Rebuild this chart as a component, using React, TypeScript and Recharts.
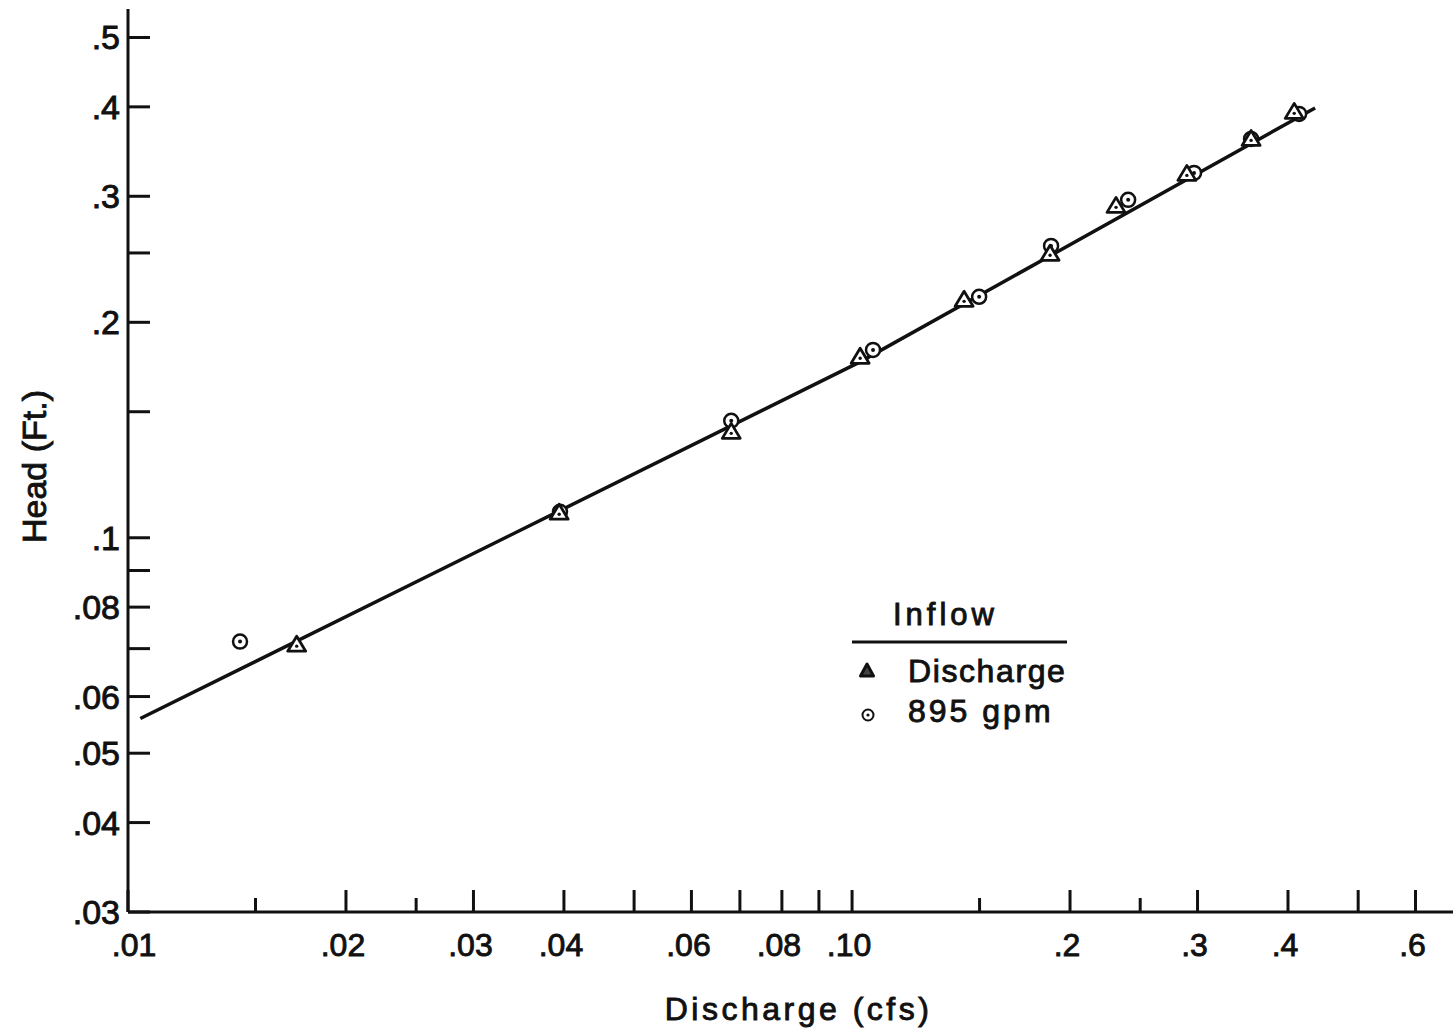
import { ScatterChart, Scatter, XAxis, YAxis, Label, Legend } from "recharts";

// Head vs discharge, log-log
const DISCHARGE_Q = [0.0171, 0.0394, 0.0681, 0.1026, 0.1428, 0.1877, 0.2315, 0.29, 0.3557, 0.408];
const DISCHARGE_H = [0.0709, 0.1084, 0.1406, 0.179, 0.215, 0.2493, 0.2909, 0.3224, 0.3608, 0.3936];

const GPM_Q = [0.01428, 0.0395, 0.0681, 0.1069, 0.1498, 0.1883, 0.2406, 0.2967, 0.3557, 0.4144];
const GPM_H = [0.0716, 0.1087, 0.1457, 0.183, 0.2171, 0.2557, 0.2966, 0.3234, 0.3608, 0.391];

// fitted curve (slight bend near 0.10 cfs)
const FIT_Q = [0.0104, 0.1026, 0.436];
const FIT_H = [0.0559, 0.1761, 0.3986];

const X_TICKS = [0.01, 0.015, 0.02, 0.025, 0.03, 0.04, 0.05, 0.06, 0.07, 0.08, 0.09, 0.1, 0.15, 0.2, 0.25, 0.3, 0.4, 0.5, 0.6];
const X_TICK_LABELS = [".01", "", ".02", "", ".03", ".04", "", ".06", "", ".08", "", ".10", "", ".2", "", ".3", ".4", "", ".6"];
const X_SHORT_TICKS = [0.015, 0.025, 0.15, 0.25];

const Y_TICKS = [0.03, 0.04, 0.05, 0.06, 0.07, 0.08, 0.09, 0.1, 0.15, 0.2, 0.25, 0.3, 0.4, 0.5];
const Y_TICK_LABELS = [".03", ".04", ".05", ".06", "", ".08", "", ".1", "", ".2", "", ".3", ".4", ".5"];

const FONT = '"Liberation Sans", Arial, sans-serif';
const INK = "#111";
const TEXT_STROKE = 0.9;

const toPoints = (q: number[], h: number[]) => q.map((v, i) => ({ q: v, h: h[i] }));

function XTick(props: any) {
  const { x, y, payload } = props;
  const i = X_TICKS.indexOf(payload.value);
  const len = X_SHORT_TICKS.includes(payload.value) ? 14 : 22;
  // first label sits a bit right of the axis corner in the original
  const shift = i === 0 ? 6 : -3;
  return (
    <g>
      <line x1={x} x2={x} y1={y} y2={y - len} stroke={INK} strokeWidth={3} />
      {X_TICK_LABELS[i] && (
        <text x={x + shift} y={y + 44} textAnchor="middle" fontFamily={FONT} fontSize={32} fill={INK} stroke={INK} strokeWidth={TEXT_STROKE}>
          {X_TICK_LABELS[i]}
        </text>
      )}
    </g>
  );
}

function YTick(props: any) {
  const { x, y, payload } = props;
  const i = Y_TICKS.indexOf(payload.value);
  return (
    <g>
      <line x1={x} x2={x + 22} y1={y} y2={y} stroke={INK} strokeWidth={3} />
      {Y_TICK_LABELS[i] && (
        <text x={x - 8} y={y + 12} textAnchor="end" fontFamily={FONT} fontSize={34} fill={INK} stroke={INK} strokeWidth={TEXT_STROKE}>
          {Y_TICK_LABELS[i]}
        </text>
      )}
    </g>
  );
}

function Triangle(props: any) {
  const { cx, cy } = props;
  return (
    <g>
      <polygon
        points={`${cx},${cy - 8.5} ${cx - 9},${cy + 6.5} ${cx + 9},${cy + 6.5}`}
        fill="#fff"
        stroke={INK}
        strokeWidth={2.8}
        strokeLinejoin="round"
      />
      <circle cx={cx} cy={cy + 1.5} r={1.7} fill={INK} />
    </g>
  );
}

function Ring(props: any) {
  const { cx, cy } = props;
  return (
    <g>
      <circle cx={cx} cy={cy} r={7} fill="#fff" stroke={INK} strokeWidth={2.5} />
      <circle cx={cx} cy={cy} r={2} fill={INK} />
    </g>
  );
}

const NoDot = () => <g />;

function LegendBox() {
  const txt = { fontFamily: FONT, fontSize: 32, fill: INK, stroke: INK, strokeWidth: TEXT_STROKE };
  return (
    <svg width={240} height={140} style={{ display: "block" }}>
      <text x={48} y={30} {...txt} fontSize={31} letterSpacing={4}>
        Inflow
      </text>
      <line x1={7} x2={222} y1={47} y2={47} stroke={INK} strokeWidth={3} />
      <polygon points="22,69 15.5,81 28.5,81" fill="#444" stroke={INK} strokeWidth={3} strokeLinejoin="round" />
      <text x={63} y={87} {...txt} letterSpacing={1.6}>
        Discharge
      </text>
      <circle cx={23} cy={120} r={5.5} fill="#fff" stroke={INK} strokeWidth={2} />
      <circle cx={23} cy={120} r={1.6} fill={INK} />
      <text x={63} y={127} {...txt} letterSpacing={3}>
        895 gpm
      </text>
    </svg>
  );
}

export default function App() {
  return (
    <div style={{ position: "absolute", left: 0, top: 0, width: 1453, height: 1034, background: "#fff" }}>
      <ScatterChart width={1453} height={1034} margin={{ top: 9, right: 0, bottom: 0, left: 0 }}>
        <XAxis
          type="number"
          dataKey="q"
          scale="log"
          domain={[0.01, 0.676]}
          allowDataOverflow
          ticks={X_TICKS}
          interval={0}
          height={122}
          tickSize={0}
          tickMargin={0}
          tickLine={false}
          axisLine={{ stroke: INK, strokeWidth: 3 }}
          tick={<XTick />}
        >
          <Label
            value="Discharge (cfs)"
            position="insideBottom"
            offset={14}
            dx={8}
            style={{ fontFamily: FONT, fontSize: 32, fill: INK, stroke: INK, strokeWidth: TEXT_STROKE, letterSpacing: 3.5 }}
          />
        </XAxis>
        <YAxis
          type="number"
          dataKey="h"
          scale="log"
          domain={[0.03, 0.548]}
          allowDataOverflow
          ticks={Y_TICKS}
          interval={0}
          width={128}
          tickSize={0}
          tickMargin={0}
          tickLine={false}
          axisLine={{ stroke: INK, strokeWidth: 3 }}
          tick={<YTick />}
        >
          <Label
            content={(p: any) => {
              const vb = p.viewBox;
              const cx = vb.x + 46;
              const cy = vb.y + vb.height / 2 + 6;
              return (
                <text
                  x={cx}
                  y={cy}
                  transform={`rotate(-90 ${cx} ${cy})`}
                  textAnchor="middle"
                  fontFamily={FONT}
                  fontSize={34}
                  fill={INK}
                  stroke={INK}
                  strokeWidth={TEXT_STROKE}
                  letterSpacing={0}
                >
                  Head (Ft.)
                </text>
              );
            }}
          />
        </YAxis>
        <Legend
          layout="horizontal"
          align="center"
          verticalAlign="middle"
          content={() => <LegendBox />}
          wrapperStyle={{ left: 845, top: 595, width: 240, height: 140 }}
        />
        <Scatter
          name="fit"
          data={toPoints(FIT_Q, FIT_H)}
          line={{ stroke: INK, strokeWidth: 3.5 }}
          lineType="joint"
          shape={NoDot}
          legendType="none"
          isAnimationActive={false}
        />
        <Scatter name="895 gpm" data={toPoints(GPM_Q, GPM_H)} shape={Ring} isAnimationActive={false} />
        <Scatter name="Discharge" data={toPoints(DISCHARGE_Q, DISCHARGE_H)} shape={Triangle} isAnimationActive={false} />
      </ScatterChart>
    </div>
  );
}
